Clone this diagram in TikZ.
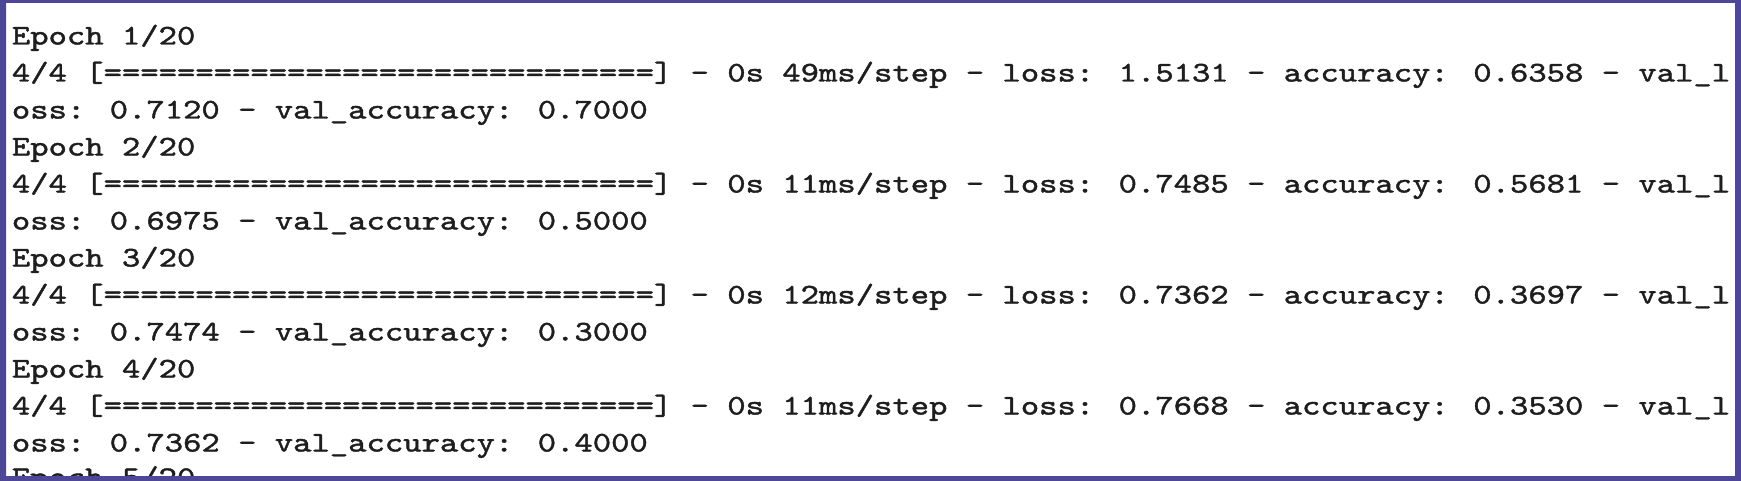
\documentclass[tikz,border=0pt]{standalone}
\usepackage{fontspec}
\newfontfamily\termfont{lmmono10-regular.otf}[FakeStretch=1.226,FakeBold=1.5]
\definecolor{framecol}{RGB}{78,70,150}
\definecolor{inkcol}{RGB}{30,30,30}
\tikzset{
  termline/.style={anchor=base west, inner sep=0pt, text=inkcol,
    font=\termfont\fontsize{14.25pt}{17pt}\selectfont},
}
\begin{document}
\begin{tikzpicture}[x=0.5pt, y=-0.5pt]
\useasboundingbox (0,0) rectangle (1741,481);
\fill[white] (0,0) rectangle (1741,481);
% log lines
\node[termline] (ep1)  at (11.5, 44.5) {Epoch 1/20};
\node[termline] (bar1) at (11.5, 81.5) {4/4 [==============================] - 0s 49ms/step - loss: 1.5131 - accuracy: 0.6358 - val\_l};
\node[termline] (val1) at (11.5, 118.5) {oss: 0.7120 - val\_accuracy: 0.7000};
\node[termline] (ep2)  at (11.5, 155.5) {Epoch 2/20};
\node[termline] (bar2) at (11.5, 192.5) {4/4 [==============================] - 0s 11ms/step - loss: 0.7485 - accuracy: 0.5681 - val\_l};
\node[termline] (val2) at (11.5, 229.5) {oss: 0.6975 - val\_accuracy: 0.5000};
\node[termline] (ep3)  at (11.5, 266.5) {Epoch 3/20};
\node[termline] (bar3) at (11.5, 303.5) {4/4 [==============================] - 0s 12ms/step - loss: 0.7362 - accuracy: 0.3697 - val\_l};
\node[termline] (val3) at (11.5, 340.5) {oss: 0.7474 - val\_accuracy: 0.3000};
\node[termline] (ep4)  at (11.5, 377.5) {Epoch 4/20};
\node[termline] (bar4) at (11.5, 414.5) {4/4 [==============================] - 0s 11ms/step - loss: 0.7668 - accuracy: 0.3530 - val\_l};
\node[termline] (val4) at (11.5, 451.5) {oss: 0.7362 - val\_accuracy: 0.4000};
\node[termline] (ep5)  at (11.5, 486) {Epoch 5/20};
% frame
\fill[framecol, even odd rule] (0,0) rectangle (1741,481) (6,3) rectangle (1735,476);
\end{tikzpicture}
\end{document}
